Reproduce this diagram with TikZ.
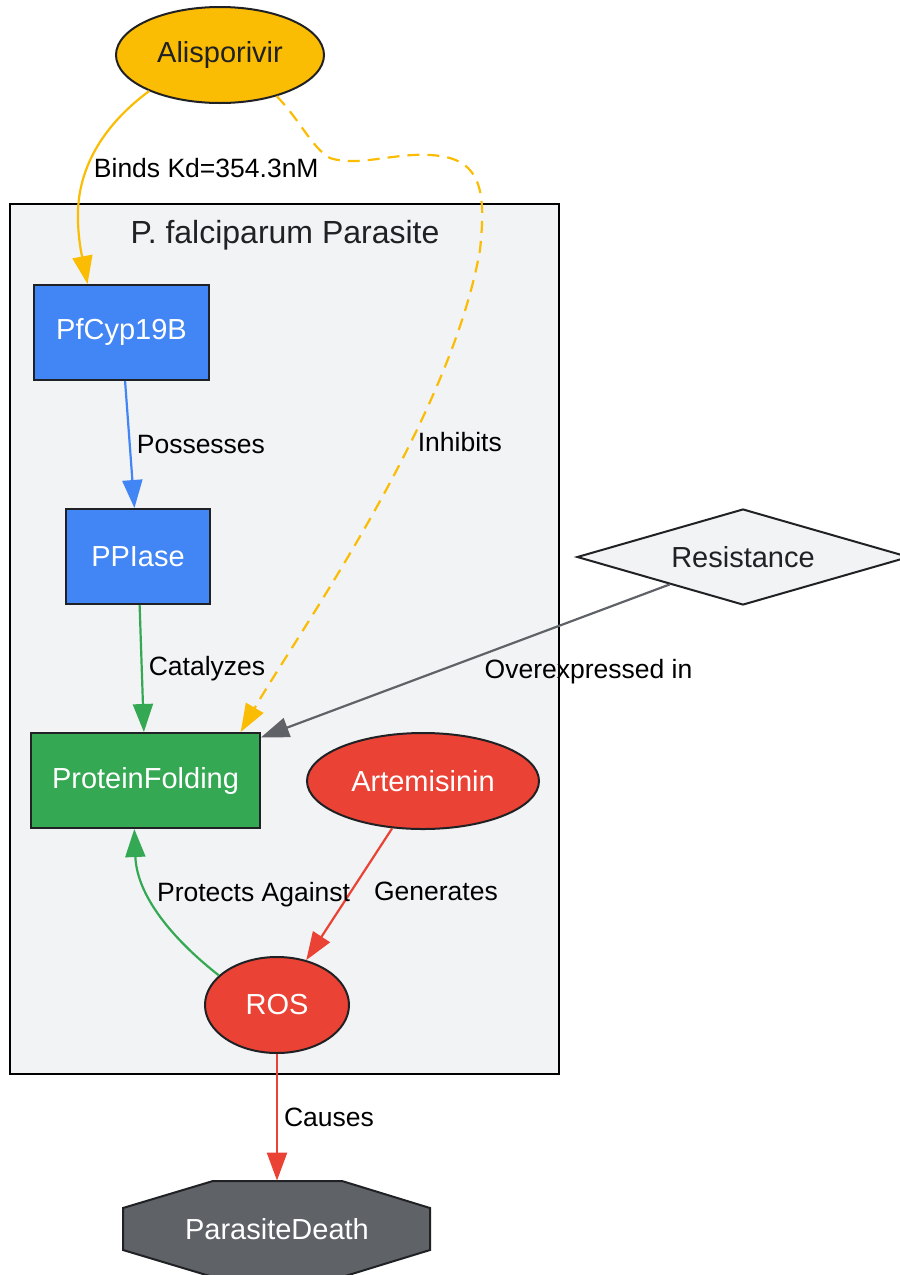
\documentclass[tikz,border=0pt]{standalone}
\usepackage{fontspec}
\setmainfont{Liberation Sans}
\usetikzlibrary{arrows.meta,shapes.geometric}

\definecolor{gyellow}{HTML}{FBBC04}
\definecolor{gblue}{HTML}{4285F4}
\definecolor{ggreen}{HTML}{34A853}
\definecolor{gred}{HTML}{EA4335}
\definecolor{ggray}{HTML}{5F6368}
\definecolor{glight}{HTML}{F1F3F4}
\definecolor{gdark}{HTML}{202124}

\begin{document}
\begin{tikzpicture}[x=0.5pt,y=-0.5pt,
    font=\fontsize{14.5}{17}\selectfont,
    >={Triangle[length=14pt,width=10pt]},
    lbl/.style={font=\fontsize{13.25}{16}\selectfont, text=black, inner sep=3pt}]

  \useasboundingbox (0,0) rectangle (900,1275);

  % cluster
  \draw[fill=glight, draw=black, line width=1pt] (10,204) rectangle (559,1074);
  \node[text=gdark, font=\fontsize{16}{19}\selectfont] (clusterlbl) at (285,235) {P. falciparum Parasite};

  \begin{scope}[every node/.style={draw=gdark, line width=1pt, inner sep=2pt, text=white}]
    \node[ellipse, fill=gyellow, text=gdark, minimum width=104pt, minimum height=48pt] (ali) at (220,55) {Alisporivir};
    \node[rectangle, fill=gblue, minimum width=87.5pt, minimum height=47.5pt] (pf) at (121.5,332.5) {PfCyp19B};
    \node[rectangle, fill=gblue, minimum width=72pt, minimum height=47.5pt] (ppi) at (138,556.5) {PPIase};
    \node[rectangle, fill=ggreen, minimum width=114.5pt, minimum height=47.5pt] (fold) at (145.5,780.5) {ProteinFolding};
    \node[ellipse, fill=gred, minimum width=116pt, minimum height=48pt] (art) at (423,781) {Artemisinin};
    \node[ellipse, fill=gred, minimum width=72pt, minimum height=48pt] (ros) at (277,1005) {ROS};
    \node[diamond, aspect=3.46, inner sep=0pt, fill=glight, text=gdark, minimum width=166pt, minimum height=48pt] (res) at (743,557) {Resistance};
  \end{scope}

  % octagon
  \draw[fill=ggray, draw=gdark, line width=1pt] (213,1181) -- (342,1181) -- (430,1208) -- (430,1250)
    -- (342,1277) -- (213,1277) -- (123,1250) -- (123,1208) -- cycle;
  \node[text=white, minimum width=153.5pt, minimum height=48pt] (death) at (277,1229) {ParasiteDeath};

  \begin{scope}[line width=1.1pt, every node/.style={lbl}]
    \draw[->, gyellow] (ali.207) .. controls (110,120) and (80,160) .. (78,210)
      node[pos=.7, right] {Binds Kd=354.3nM}
      .. controls (77,240) and (84,265) .. (pf.125);
    \draw[->, gyellow, dashed, dash pattern=on 6pt off 4pt] (ali.324) .. controls (300,120) and (312,148) .. (330,158)
      .. controls (360,168) and (400,150) .. (440,156)
      .. controls (485,162) and (485,200) .. (480,250)
      .. controls (450,420) and (300,630) .. (fold.27)
      node[pos=.36, right] {Inhibits};
    \path (pf) edge[->, gblue] node[pos=.5, right] {Possesses} (ppi);
    \path (ppi) edge[->, ggreen] node[pos=.5, right] {Catalyzes} (fold);
    \path (res) edge[->, ggray] node[pos=.47, anchor=north west, yshift=2pt] {Overexpressed in} (fold);
    \path (art) edge[->, gred] node[pos=.48, right=8pt] {Generates} (ros);
    \draw[->, ggreen] (ros.153) .. controls (180,945) and (137,900) .. (fold.257)
      node[pos=.65, right] {Protects Against};
    \path (ros) edge[->, gred] node[midway, right] {Causes} (death);
  \end{scope}

\end{tikzpicture}
\end{document}
